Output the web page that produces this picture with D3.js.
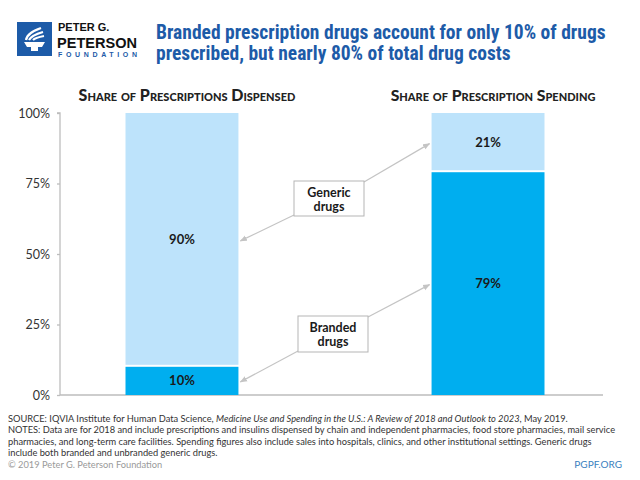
<!DOCTYPE html>
<html>
<head>
<meta charset="utf-8">
<script src="https://cdn.jsdelivr.net/npm/d3@7"></script>
<style>
  html, body { margin: 0; padding: 0; background: #fff; }
  svg { display: block; }
</style>
</head>
<body>
<svg id="chart" width="640" height="480"></svg>
<script>
// ---- data ----
const categories = ["Share of Prescriptions Dispensed", "Share of Prescription Spending"];
const brandedShare = [10, 79];
const genericShare = [90, 21];
const seriesKeys = ["branded", "generic"];
const seriesLabels = [["Branded", "drugs"], ["Generic", "drugs"]];
const yTickValues = [0, 25, 50, 75, 100];

const titleLines = [
  "Branded prescription drugs account for only 10% of drugs",
  "prescribed, but nearly 80% of total drug costs"
];

// ---- setup ----
const svg = d3.select("#chart");
const blue = "#1d5ba8";
const lightBar = "#bde3fb";
const darkBar = "#00aeef";
const axisGray = "#bdbdbd";
const bodyFont = "Lato, 'Open Sans', 'Noto Sans', sans-serif";
const condFont = "'Liberation Sans Narrow', 'Roboto Condensed', 'DejaVu Sans Condensed', 'Liberation Sans', sans-serif";

function fitWidth(sel, target) {
  const w = sel.node().getComputedTextLength();
  const fs = parseFloat(sel.attr("font-size"));
  sel.attr("font-size", (fs * target / w).toFixed(2));
}

// ---- logo ----
const logo = svg.append("g");
logo.append("rect").attr("x", 17).attr("y", 22).attr("width", 35).attr("height", 34).attr("fill", blue);
// torch (simplified)
logo.append("path")
  .attr("d", "M24,42 L45,42 L42,47 L27,47 Z")
  .attr("fill", "#fff");
logo.append("rect").attr("x", 31).attr("y", 47).attr("width", 7).attr("height", 4).attr("fill", "#fff");
logo.append("path").attr("d", "M26,40 C27,34 33,31 41,28").attr("stroke", "#fff").attr("stroke-width", 2.2).attr("fill", "none");
logo.append("path").attr("d", "M29,40 C31,36 36,34 43,32").attr("stroke", "#fff").attr("stroke-width", 2.2).attr("fill", "none");
logo.append("path").attr("d", "M33,40 C35,38 39,37 44,36").attr("stroke", "#fff").attr("stroke-width", 2.2).attr("fill", "none");

const lt1 = logo.append("text").attr("x", 58).attr("y", 31).attr("font-family", "'Liberation Sans', Arial, sans-serif")
  .attr("font-weight", "bold").attr("font-size", 11).attr("fill", "#111").text("PETER G.");
const lt2 = logo.append("text").attr("x", 57).attr("y", 47.5).attr("font-family", "'Liberation Sans Narrow', 'Liberation Sans', Arial, sans-serif")
  .attr("font-weight", "bold").attr("font-size", 17).attr("fill", "#111").text("PETERSON");
fitWidth(lt2, 80);
const lt3 = logo.append("text").attr("x", 58).attr("y", 56.5).attr("font-family", "'Liberation Sans', Arial, sans-serif")
  .attr("font-weight", "bold").attr("font-size", 7).attr("fill", blue).text("FOUNDATION");
{
  const w = lt3.node().getComputedTextLength();
  lt3.attr("letter-spacing", ((79 - w) / 9).toFixed(2));
}

// ---- title ----
const title = svg.append("g");
titleLines.forEach((t, i) => {
  const tx = title.append("text").attr("x", 156).attr("y", 39 + i * 21)
    .attr("font-family", condFont).attr("font-weight", "bold").attr("font-size", 18)
    .attr("fill", blue).text(t);
  if (i === 0) {
    fitWidth(tx, 450);
  }
});
const fs0 = title.select("text").attr("font-size");
title.selectAll("text").attr("font-size", fs0);

// ---- scales ----
const y = d3.scaleLinear().domain([0, 100]).range([395, 113]);
const x = d3.scaleBand().domain(categories).range([125.5, 544.5]).paddingInner(0.631).paddingOuter(0);

// ---- y axis ----
const yAxis = d3.axisLeft(y).tickValues(yTickValues).tickSize(3).tickPadding(7).tickFormat(d => d + "%");
const ga = svg.append("g").attr("transform", "translate(60,0)").call(yAxis);
ga.select(".domain").attr("stroke", axisGray).attr("stroke-width", 1.3).attr("d", `M-3,${y(100)}H0V${y(0)}`);
ga.selectAll(".tick line").attr("stroke", axisGray).attr("stroke-width", 1.3);
ga.selectAll(".tick text").attr("font-family", bodyFont).attr("font-size", 12.5).attr("fill", "#333");

// baseline
svg.append("line").attr("x1", 60).attr("x2", 603).attr("y1", y(0)).attr("y2", y(0))
  .attr("stroke", axisGray).attr("stroke-width", 1.3);

// ---- bars ----
const table = categories.map((c, i) => ({ category: c, branded: brandedShare[i], generic: genericShare[i] }));
const stack = d3.stack().keys(seriesKeys)(table);
const colors = { branded: darkBar, generic: lightBar };

const layers = svg.append("g").selectAll("g").data(stack).join("g").attr("fill", d => colors[d.key]);
layers.selectAll("rect").data(d => d.map(v => Object.assign(v, { key: d.key })))
  .join("rect")
  .attr("x", d => x(d.data.category))
  .attr("width", x.bandwidth())
  .attr("y", d => y(d[1]))
  .attr("height", d => y(d[0]) - y(d[1]) - (d.key === "generic" ? 2 : 0));

// value labels
layers.selectAll("text").data(d => d)
  .join("text")
  .attr("x", d => x(d.data.category) + x.bandwidth() / 2)
  .attr("y", d => y((d[0] + d[1]) / 2))
  .attr("dy", "0.35em")
  .attr("text-anchor", "middle")
  .attr("font-family", bodyFont).attr("font-weight", "bold").attr("font-size", 13)
  .attr("fill", "#1a1a1a")
  .text(d => (d[1] - d[0]) + "%");

// ---- panel titles ----
categories.forEach((c, i) => {
  const t = svg.append("text")
    .attr("x", x(c) + x.bandwidth() / 2 + 5).attr("y", 100.5)
    .attr("text-anchor", "middle")
    .attr("font-family", bodyFont).attr("font-weight", "900")
    .attr("font-size", 13).style("font-variant", "small-caps")
    .attr("fill", "#222").text(c);
  fitWidth(t, i === 0 ? 218 : 203);
});

// ---- annotations ----
const defs = svg.append("defs");
defs.append("marker").attr("id", "arr").attr("viewBox", "0 0 10 10").attr("refX", 9).attr("refY", 5)
  .attr("markerWidth", 6).attr("markerHeight", 6).attr("orient", "auto")
  .append("path").attr("d", "M0,1 L10,5 L0,9 Z").attr("fill", "#c4c4c4");

const boxes = [
  { key: "generic", x: 294, y: 181, w: 70, h: 35 },
  { key: "branded", x: 298, y: 316, w: 70, h: 36 }
];
const ann = svg.append("g");
boxes.forEach(b => {
  const si = seriesKeys.indexOf(b.key);
  const layer = stack[si];
  const l = layer[0], r = layer[1];
  const lx = x(l.data.category) + x.bandwidth() + 2, ly = y((l[0] + l[1]) / 2) + 1;
  const rx = x(r.data.category) - 2, ry = y((r[0] + r[1]) / 2) + 1;
  ann.append("line").attr("x1", b.x).attr("y1", b.y + b.h - 1).attr("x2", lx).attr("y2", ly)
    .attr("stroke", "#c4c4c4").attr("stroke-width", 1.2).attr("marker-end", "url(#arr)");
  ann.append("line").attr("x1", b.x + b.w).attr("y1", b.y + 1).attr("x2", rx).attr("y2", ry)
    .attr("stroke", "#c4c4c4").attr("stroke-width", 1.2).attr("marker-end", "url(#arr)");
  ann.append("rect").attr("x", b.x).attr("y", b.y).attr("width", b.w).attr("height", b.h)
    .attr("fill", "#fff").attr("stroke", "#b5b5b5").attr("stroke-width", 1);
  seriesLabels[si].forEach((s, k) => {
    ann.append("text").attr("x", b.x + b.w / 2).attr("y", b.y + 12 + k * 14).attr("dy", "0.35em")
      .attr("text-anchor", "middle").attr("font-family", bodyFont).attr("font-weight", "bold")
      .attr("font-size", 12.5).attr("fill", "#1a1a1a").text(s);
  });
});

// ---- footer ----
const foot = svg.append("g").attr("font-family", bodyFont).attr("fill", "#333");
const fsFoot = 9.6;
const f1 = foot.append("text").attr("x", 8).attr("y", 421.5).attr("font-size", fsFoot);
f1.append("tspan").text("SOURCE: IQVIA Institute for Human Data Science, ");
f1.append("tspan").attr("font-style", "italic").text("Medicine Use and Spending in the U.S.: A Review of 2018 and Outlook to 2023");
f1.append("tspan").text(", May 2019.");
const footLines = [
  "NOTES: Data are for 2018 and include prescriptions and insulins dispensed by chain and independent pharmacies, food store pharmacies, mail service",
  "pharmacies, and long-term care facilities. Spending figures also include sales into hospitals, clinics, and other institutional settings. Generic drugs",
  "include both branded and unbranded generic drugs."
];
const fl = footLines.map((t, i) => foot.append("text").attr("x", 8).attr("y", 433 + i * 11.5).attr("font-size", fsFoot).text(t));
const w2 = fl[0].node().getComputedTextLength();
const fsF = (fsFoot * 607 / w2).toFixed(2);
foot.selectAll("text").attr("font-size", fsF);

svg.append("text").attr("x", 8).attr("y", 468).attr("font-family", bodyFont).attr("font-size", fsF)
  .attr("fill", "#9a9a9a").text("© 2019 Peter G. Peterson Foundation");
svg.append("text").attr("x", 622).attr("y", 468).attr("text-anchor", "end").attr("font-family", bodyFont)
  .attr("font-size", 10).attr("fill", "#3a7fc0").text("PGPF.ORG");
</script>
</body>
</html>
